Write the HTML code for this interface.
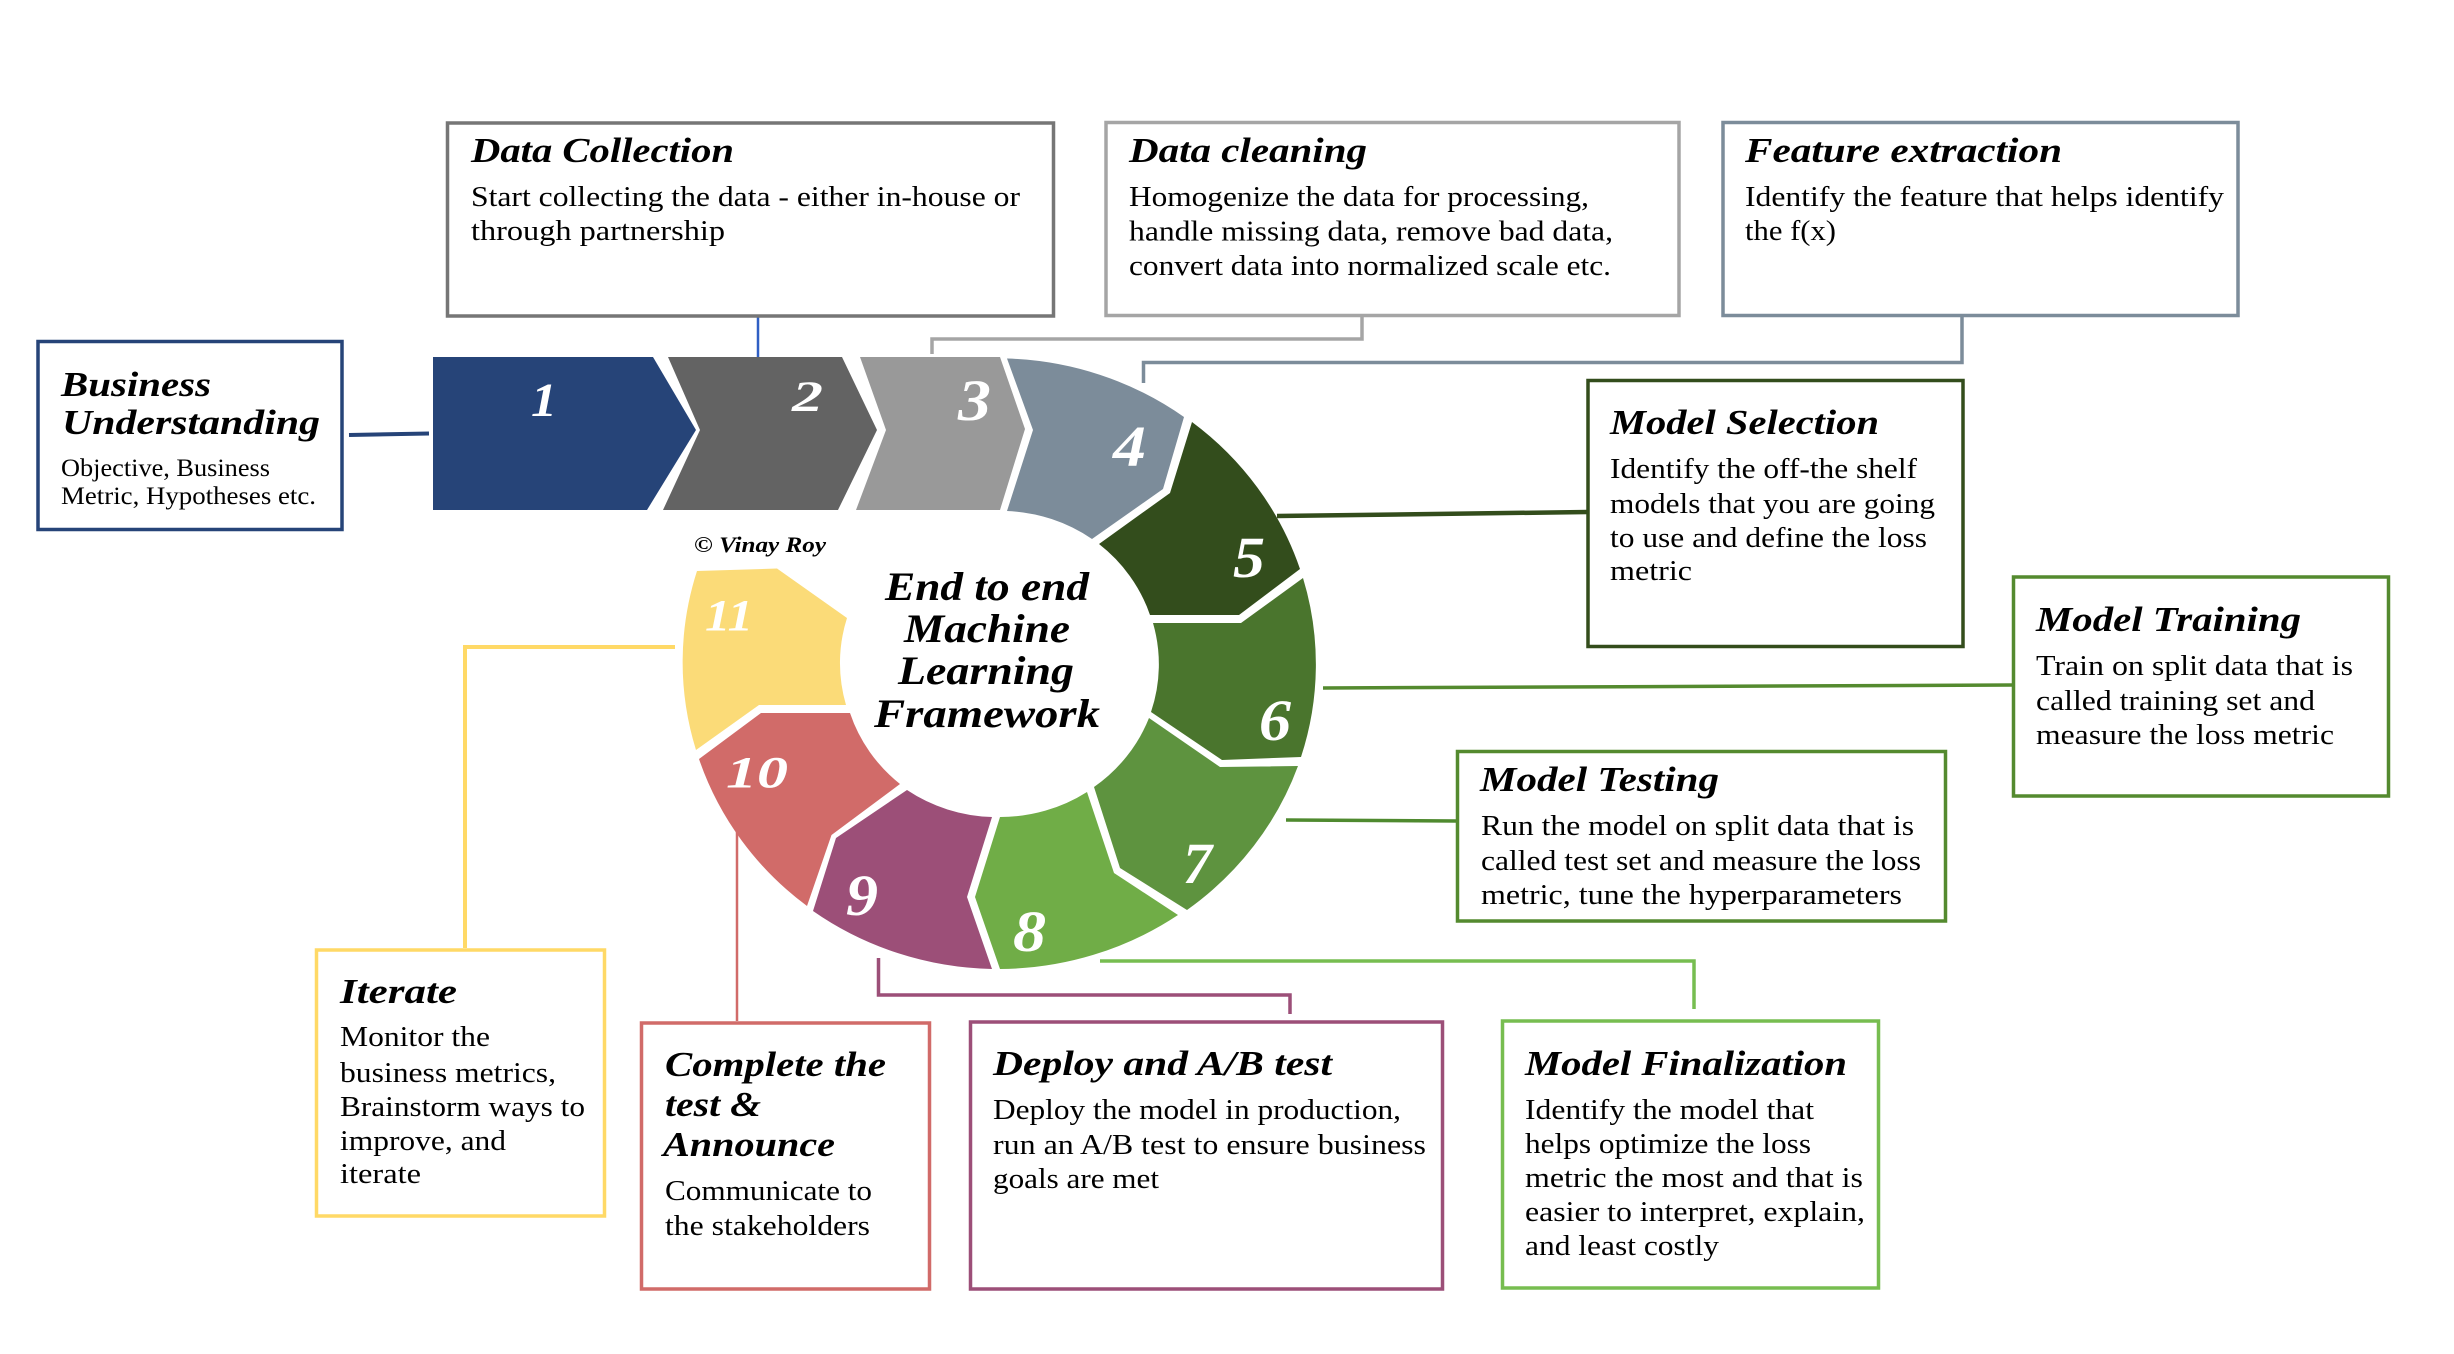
<!DOCTYPE html>
<html lang="en">
<head>
<meta charset="utf-8">
<title>End to end Machine Learning Framework</title>
<style>
html,body{margin:0;padding:0;background:#fff;width:2454px;height:1354px;overflow:hidden}
svg{display:block}
text{font-family:"Liberation Serif",serif;fill:#000}
.t{font-size:35px;font-weight:bold;font-style:italic}
.b{font-size:29px}
.s{font-size:25px}
.c{font-size:40px;font-weight:bold;font-style:italic}
.n{font-weight:bold;font-style:italic;fill:#fff}
rect{fill:#fff;stroke-width:3.5}
polyline,line{fill:none}
</style>
</head>
<body>
<svg width="2454" height="1354" viewBox="0 0 2454 1354" xmlns="http://www.w3.org/2000/svg">
<rect x="0" y="0" width="2454" height="1354" style="fill:#fff;stroke:none"/>

<!-- connectors -->
<line x1="349" y1="435" x2="429" y2="433.5" stroke="#264478" stroke-width="4"/>
<line x1="758" y1="316" x2="758" y2="358" stroke="#2F5FC4" stroke-width="2.5"/>
<polyline points="1362,316 1362,339 932,339 932,354" stroke="#A5A5A5" stroke-width="3.5"/>
<polyline points="1962,316 1962,362.5 1143.5,362.5 1143.5,383" stroke="#7C8C9A" stroke-width="3.5"/>
<line x1="1277" y1="516" x2="1588" y2="512" stroke="#334D1C" stroke-width="4.5"/>
<line x1="1323" y1="688" x2="2013" y2="685" stroke="#548A2F" stroke-width="3.5"/>
<line x1="1286" y1="820" x2="1457" y2="821" stroke="#4F8A2F" stroke-width="3.5"/>
<polyline points="1100,961 1694,961 1694,1009" stroke="#77BD50" stroke-width="3.5"/>
<polyline points="878.5,958 878.5,995 1290,995 1290,1014" stroke="#9C4F78" stroke-width="3.5"/>
<line x1="737" y1="832" x2="737" y2="1021" stroke="#D16B69" stroke-width="2.5"/>
<polyline points="675,647 465,647 465,948" stroke="#FFD966" stroke-width="4"/>

<!-- chevrons and ring segments -->
<path fill="#264478" d="M433,357 L653,357 L696,430 L647,510 L433,510 Z"/>
<path fill="#636363" d="M668,357 L842,357 L877,430 L838,510 L663,510 L700,430 Z"/>
<path fill="#999999" d="M860,357 L1000,357 L1025,429 L1000,510 L856,510 L886,430 Z"/>
<path fill="#7C8C9A" d="M1007,358.5 A317,306 0 0 1 1184,417 L1163,489 L1092,539 A158,153 0 0 0 1007,511 L1033,430 Z"/>
<path fill="#334D1C" d="M1192,422 A317,306 0 0 1 1300,569 L1239,615 L1150,615 A158,153 0 0 0 1099,544 L1170,493 Z"/>
<path fill="#4A752D" d="M1303,578 A317,306 0 0 1 1301,757 L1222,760 L1151,712 A158,153 0 0 0 1153,623 L1241,623 Z"/>
<path fill="#5E933F" d="M1298,766 A317,306 0 0 1 1187,910 L1120,868 L1094,787 A158,153 0 0 0 1149,718 L1220,767 Z"/>
<path fill="#70AD47" d="M1178,915 A317,306 0 0 1 1000,969 L975,897 L1000,817 A158,153 0 0 0 1087,792 L1114,873 Z"/>
<path fill="#9C4F78" d="M992,969 A317,306 0 0 1 813,911 L836,838 L907,790 A158,153 0 0 0 992,817 L967,897 Z"/>
<path fill="#D16B69" d="M807,906 A317,306 0 0 1 699,759 L761,713 L850,713 A158,153 0 0 0 900,784 L831.5,835 Z"/>
<path fill="#FBDB78" d="M696,750 A317,306 0 0 1 697,571 L777,568.5 L847,618 A158,153 0 0 0 846,705 L759,705 Z"/>

<!-- numbers -->
<text class="n" x="531" y="416" font-size="48" textLength="26" lengthAdjust="spacingAndGlyphs">1</text>
<text class="n" x="792" y="411" font-size="43" textLength="31" lengthAdjust="spacingAndGlyphs">2</text>
<text class="n" x="958" y="420" font-size="58" textLength="33" lengthAdjust="spacingAndGlyphs">3</text>
<text class="n" x="1113" y="466" font-size="58" textLength="33" lengthAdjust="spacingAndGlyphs">4</text>
<text class="n" x="1233" y="577" font-size="58" textLength="32" lengthAdjust="spacingAndGlyphs">5</text>
<text class="n" x="1259" y="740" font-size="58" textLength="32" lengthAdjust="spacingAndGlyphs">6</text>
<text class="n" x="1183" y="883" font-size="58" textLength="29" lengthAdjust="spacingAndGlyphs">7</text>
<text class="n" x="1013" y="951" font-size="58" textLength="33" lengthAdjust="spacingAndGlyphs">8</text>
<text class="n" x="846" y="915" font-size="58" textLength="32" lengthAdjust="spacingAndGlyphs">9</text>
<text class="n" x="726" y="787" font-size="44" textLength="62" lengthAdjust="spacingAndGlyphs">10</text>
<text class="n" x="705" y="630" font-size="44" textLength="48" lengthAdjust="spacingAndGlyphs">11</text>

<!-- centre -->
<text class="c" x="885" y="600" textLength="204" lengthAdjust="spacingAndGlyphs">End to end</text>
<text class="c" x="904" y="642" textLength="166" lengthAdjust="spacingAndGlyphs">Machine</text>
<text class="c" x="898" y="684" textLength="176" lengthAdjust="spacingAndGlyphs">Learning</text>
<text class="c" x="874" y="727" textLength="226" lengthAdjust="spacingAndGlyphs">Framework</text>
<text x="694" y="552" font-size="22" font-weight="bold" font-style="italic" textLength="132" lengthAdjust="spacingAndGlyphs">© Vinay Roy</text>

<!-- Business Understanding -->
<rect x="38" y="341.5" width="304" height="188" stroke="#264478"/>
<text class="t" x="61" y="396" textLength="150" lengthAdjust="spacingAndGlyphs">Business</text>
<text class="t" x="62" y="434" textLength="258" lengthAdjust="spacingAndGlyphs">Understanding</text>
<text class="s" x="61" y="476" textLength="209" lengthAdjust="spacingAndGlyphs">Objective, Business</text>
<text class="s" x="61" y="504" textLength="255" lengthAdjust="spacingAndGlyphs">Metric, Hypotheses etc.</text>

<g transform="translate(-1,0)">
<!-- Data Collection -->
<rect x="448.5" y="123" width="606" height="193" stroke="#767676"/>
<text class="t" x="472" y="162" textLength="263" lengthAdjust="spacingAndGlyphs">Data Collection</text>
<text class="b" x="472" y="206" textLength="549" lengthAdjust="spacingAndGlyphs">Start collecting the data - either in-house or</text>
<text class="b" x="472" y="240" textLength="254" lengthAdjust="spacingAndGlyphs">through partnership</text>

<!-- Data cleaning -->
<rect x="1107" y="122.5" width="573" height="193" stroke="#A5A5A5"/>
<text class="t" x="1130" y="162" textLength="238" lengthAdjust="spacingAndGlyphs">Data cleaning</text>
<text class="b" x="1130" y="206" textLength="460" lengthAdjust="spacingAndGlyphs">Homogenize the data for processing,</text>
<text class="b" x="1130" y="240.5" textLength="484" lengthAdjust="spacingAndGlyphs">handle missing data, remove bad data,</text>
<text class="b" x="1130" y="275" textLength="482" lengthAdjust="spacingAndGlyphs">convert data into normalized scale etc.</text>

<!-- Feature extraction -->
<rect x="1724" y="122.5" width="515" height="193" stroke="#7C8C9A"/>
<text class="t" x="1746" y="162" textLength="317" lengthAdjust="spacingAndGlyphs">Feature extraction</text>
<text class="b" x="1746" y="206" textLength="479" lengthAdjust="spacingAndGlyphs">Identify the feature that helps identify</text>
<text class="b" x="1746" y="240" textLength="91" lengthAdjust="spacingAndGlyphs">the f(x)</text>

<!-- Model Selection -->
<rect x="1589" y="380.5" width="375" height="266" stroke="#334D1C"/>
<text class="t" x="1611" y="434" textLength="269" lengthAdjust="spacingAndGlyphs">Model Selection</text>
<text class="b" x="1611" y="478" textLength="307" lengthAdjust="spacingAndGlyphs">Identify the off-the shelf</text>
<text class="b" x="1611" y="513" textLength="325" lengthAdjust="spacingAndGlyphs">models that you are going</text>
<text class="b" x="1611" y="547" textLength="317" lengthAdjust="spacingAndGlyphs">to use and define the loss</text>
<text class="b" x="1611" y="580" textLength="82" lengthAdjust="spacingAndGlyphs">metric</text>

<!-- Model Training -->
<rect x="2014.5" y="577" width="375" height="219" stroke="#548A2F"/>
<text class="t" x="2037" y="631" textLength="265" lengthAdjust="spacingAndGlyphs">Model Training</text>
<text class="b" x="2037" y="675" textLength="317" lengthAdjust="spacingAndGlyphs">Train on split data that is</text>
<text class="b" x="2037" y="710" textLength="279" lengthAdjust="spacingAndGlyphs">called training set and</text>
<text class="b" x="2037" y="744" textLength="298" lengthAdjust="spacingAndGlyphs">measure the loss metric</text>

<!-- Model Testing -->
<rect x="1458.5" y="751.5" width="488" height="169.5" stroke="#548A2F"/>
<text class="t" x="1481" y="791" textLength="239" lengthAdjust="spacingAndGlyphs">Model Testing</text>
<text class="b" x="1482" y="835" textLength="433" lengthAdjust="spacingAndGlyphs">Run the model on split data that is</text>
<text class="b" x="1482" y="870" textLength="440" lengthAdjust="spacingAndGlyphs">called test set and measure the loss</text>
<text class="b" x="1482" y="904" textLength="421" lengthAdjust="spacingAndGlyphs">metric, tune the hyperparameters</text>

<!-- Iterate -->
<rect x="317.5" y="950" width="288" height="266" stroke="#FFD966"/>
<text class="t" x="341" y="1003" textLength="117" lengthAdjust="spacingAndGlyphs">Iterate</text>
<text class="b" x="341" y="1046" textLength="150" lengthAdjust="spacingAndGlyphs">Monitor the</text>
<text class="b" x="341" y="1082" textLength="216" lengthAdjust="spacingAndGlyphs">business metrics,</text>
<text class="b" x="341" y="1116" textLength="245" lengthAdjust="spacingAndGlyphs">Brainstorm ways to</text>
<text class="b" x="341" y="1150" textLength="166" lengthAdjust="spacingAndGlyphs">improve, and</text>
<text class="b" x="341" y="1183" textLength="81" lengthAdjust="spacingAndGlyphs">iterate</text>

<!-- Complete -->
<rect x="642.5" y="1023" width="288" height="266" stroke="#D16B69"/>
<text class="t" x="666" y="1076" textLength="221" lengthAdjust="spacingAndGlyphs">Complete the</text>
<text class="t" x="666" y="1116" textLength="96" lengthAdjust="spacingAndGlyphs">test &amp;</text>
<text class="t" x="664" y="1156" textLength="172" lengthAdjust="spacingAndGlyphs">Announce</text>
<text class="b" x="666" y="1200" textLength="207" lengthAdjust="spacingAndGlyphs">Communicate to</text>
<text class="b" x="666" y="1235" textLength="205" lengthAdjust="spacingAndGlyphs">the stakeholders</text>

<!-- Deploy -->
<rect x="971.5" y="1022" width="472" height="267" stroke="#9C4F78"/>
<text class="t" x="994" y="1075" textLength="339" lengthAdjust="spacingAndGlyphs">Deploy and A/B test</text>
<text class="b" x="994" y="1119" textLength="408" lengthAdjust="spacingAndGlyphs">Deploy the model in production,</text>
<text class="b" x="994" y="1154" textLength="433" lengthAdjust="spacingAndGlyphs">run an A/B test to ensure business</text>
<text class="b" x="994" y="1188" textLength="166" lengthAdjust="spacingAndGlyphs">goals are met</text>

<!-- Model Finalization -->
<rect x="1503.5" y="1021" width="376" height="267" stroke="#77BD50"/>
<text class="t" x="1526" y="1075" textLength="322" lengthAdjust="spacingAndGlyphs">Model Finalization</text>
<text class="b" x="1526" y="1119" textLength="289" lengthAdjust="spacingAndGlyphs">Identify the model that</text>
<text class="b" x="1526" y="1153" textLength="286" lengthAdjust="spacingAndGlyphs">helps optimize the loss</text>
<text class="b" x="1526" y="1187" textLength="338" lengthAdjust="spacingAndGlyphs">metric the most and that is</text>
<text class="b" x="1526" y="1221" textLength="340" lengthAdjust="spacingAndGlyphs">easier to interpret, explain,</text>
<text class="b" x="1526" y="1255" textLength="194" lengthAdjust="spacingAndGlyphs">and least costly</text>
</g>
</svg>
</body>
</html>
